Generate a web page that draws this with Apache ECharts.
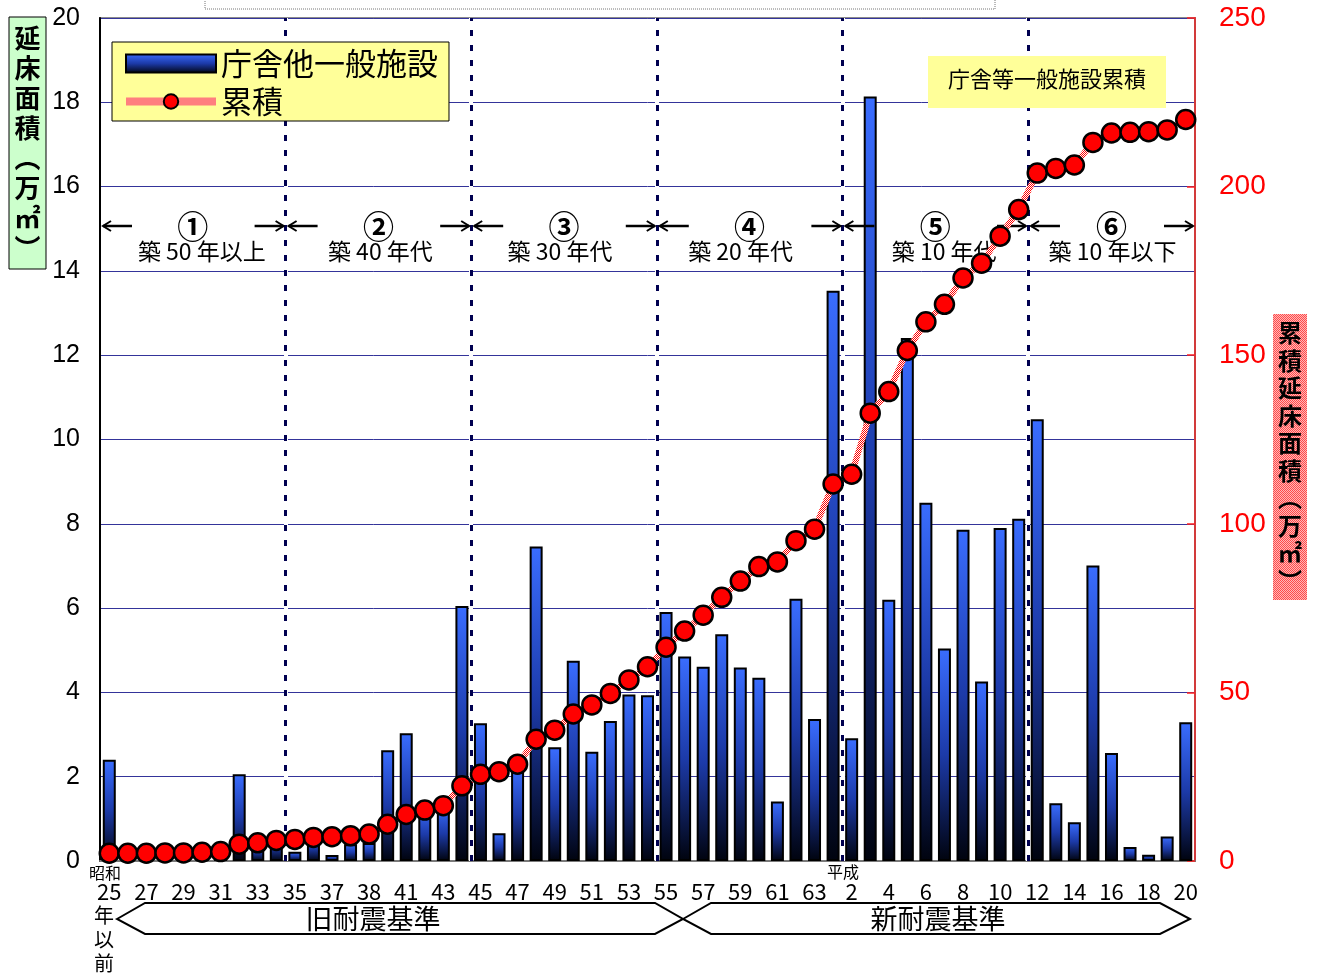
<!DOCTYPE html>
<html>
<head>
<meta charset="utf-8">
<script src="https://cdn.jsdelivr.net/npm/echarts@6/dist/echarts.min.js"></script>
<style>
  html, body { margin: 0; padding: 0; background: #fff; }
  #chart { width: 1319px; height: 976px; }
</style>
</head>
<body>
<div id="chart"></div>
<script>
// 建築年度（昭和25年以前 … 昭和63年, 平成元年, 平成2年 … 平成20年）
const categories = [
  '昭和25年以前', '昭和26', '昭和27', '昭和28', '昭和29', '昭和30', '昭和31', '昭和32', '昭和33', '昭和34',
  '昭和35', '昭和36', '昭和37', '昭和38', '昭和39', '昭和40', '昭和41', '昭和42', '昭和43', '昭和44',
  '昭和45', '昭和46', '昭和47', '昭和48', '昭和49', '昭和50', '昭和51', '昭和52', '昭和53', '昭和54',
  '昭和55', '昭和56', '昭和57', '昭和58', '昭和59', '昭和60', '昭和61', '昭和62', '昭和63', '平成元',
  '平成2', '平成3', '平成4', '平成5', '平成6', '平成7', '平成8', '平成9', '平成10', '平成11',
  '平成12', '平成13', '平成14', '平成15', '平成16', '平成17', '平成18', '平成19', '平成20'
];

// 横軸の目盛ラベル（1年おき）
const tickLabels = [
  '25', '27', '29', '31', '33', '35', '37', '38', '41', '43',
  '45', '47', '49', '51', '53', '55', '57', '59', '61', '63',
  '2', '4', '6', '8', '10', '12', '14', '16', '18', '20'
];

// 庁舎他一般施設 延床面積（万㎡）
const floorArea = [
  2.40, 0.02, 0.03, 0.02, 0.05, 0.10, 0.20, 2.06, 0.40, 0.65,
  0.22, 0.60, 0.14, 0.40, 0.43, 2.63, 3.03, 1.25, 1.30, 6.05,
  3.27, 0.66, 2.20, 7.46, 2.70, 4.75, 2.59, 3.32, 3.95, 3.93,
  5.91, 4.85, 4.61, 5.38, 4.59, 4.35, 1.41, 6.22, 3.37, 13.53,
  2.91, 18.14, 6.20, 12.41, 8.50, 5.04, 7.86, 4.26, 7.90, 8.12,
  10.48, 1.37, 0.92, 7.01, 2.56, 0.33, 0.15, 0.58, 3.29
];

// 累積延床面積（万㎡）
const cumulative = [
  2.3, 2.3, 2.3, 2.4, 2.4, 2.6, 2.8, 5.0, 5.4, 6.1,
  6.4, 7.0, 7.2, 7.5, 8.0, 10.9, 13.8, 15.1, 16.4, 22.3,
  25.7, 26.5, 28.7, 36.1, 38.8, 43.6, 46.3, 49.7, 53.7, 57.6,
  63.4, 68.2, 72.9, 78.2, 83.0, 87.3, 88.7, 95.0, 98.4, 111.8,
  114.7, 132.8, 139.2, 151.4, 159.9, 165.1, 172.9, 177.3, 185.3, 193.2,
  204.0, 205.4, 206.4, 213.1, 215.9, 216.1, 216.3, 216.8, 219.9
];

// 築年数区分の境界（カテゴリ番号）と表示
const eraBounds = [0, 10, 20, 30, 40, 50, 59];
const eraMarks = ['①', '②', '③', '④', '⑤', '⑥'];
const eraNames = ['築 50 年以上', '築 40 年代', '築 30 年代', '築 20 年代', '築 10 年代', '築 10 年以下'];
const eraNameShift = [9, 2, -4, -9, 9, 1];

const JP = '"Noto Sans CJK JP", sans-serif';
const NUM = '"Liberation Sans", Arial, sans-serif';

// 2x2 の網掛けパターン
function dots(ink, paper, full) {
  const cv = document.createElement('canvas');
  cv.width = 2; cv.height = 2;
  const g = cv.getContext('2d');
  g.fillStyle = paper; g.fillRect(0, 0, 2, 2);
  g.fillStyle = ink; g.fillRect(0, 0, 1, 1);
  if (full) g.fillRect(1, 1, 1, 1);
  return cv;
}
const dottedPink = { image: dots('#ff0000', '#ffffff', true), repeat: 'repeat' };
const boxPink = { image: dots('#ff4a4a', '#ffb8b8', true), repeat: 'repeat' };

const chart = echarts.init(document.getElementById('chart'));

chart.setOption({
  animation: false,
  backgroundColor: '#ffffff',
  grid: { left: 100, right: 124, top: 18, bottom: 115, show: true, borderColor: '#8c8c8c', borderWidth: 2 },
  legend: {
    left: 112, top: 42, orient: 'vertical', z: 8,
    backgroundColor: '#ffff99', borderColor: '#000', borderWidth: 1,
    padding: [6, 11, 4, 10],
    itemWidth: 90, itemHeight: 18, itemGap: 7, itemTextGap: 10,
    selectedMode: false,
    lineStyle: { width: 8 },
    textStyle: { fontSize: 31, lineHeight: 31, fontFamily: JP, color: '#000' },
    data: [{ name: '庁舎他一般施設', icon: 'rect' }, { name: '累積' }]
  },
  xAxis: [
    {
      type: 'category', data: categories, gridIndex: 0,
      axisLine: { lineStyle: { color: '#7a7a7a', width: 2 } },
      axisTick: { show: false },
      axisLabel: {
        interval: 0, margin: 20, fontSize: 22, fontFamily: JP, color: '#000',
        formatter: (v, i) => (i % 2 === 0 ? tickLabels[i / 2] : '')
      }
    },
    { type: 'value', min: 0, max: categories.length, show: false, gridIndex: 0 }
  ],
  yAxis: [
    {
      type: 'value', min: 0, max: 20, interval: 2, position: 'left',
      axisLine: { show: true, lineStyle: { color: '#000', width: 2 } },
      axisTick: { show: false },
      axisLabel: { fontSize: 25, fontFamily: NUM, color: '#000', margin: 20 },
      splitLine: { lineStyle: { color: '#34349a', width: 1 } }
    },
    {
      type: 'value', min: 0, max: 250, interval: 50, position: 'right',
      axisLine: { show: true, lineStyle: { color: '#d23a3a', width: 2 } },
      axisTick: { show: true, inside: true, length: 8, lineStyle: { color: '#ff2020', width: 1.5 } },
      axisLabel: { fontSize: 28, fontFamily: NUM, color: '#ff0000', margin: 24 },
      splitLine: { show: false }
    }
  ],
  series: [
    {
      name: '庁舎他一般施設', type: 'bar', data: floorArea, barWidth: '70%', z: 2,
      itemStyle: {
        color: { type: 'linear', x: 0, y: 0, x2: 0, y2: 1,
          colorStops: [{ offset: 0, color: '#3a6dff' }, { offset: 0.5, color: '#1c3aa8' }, { offset: 1, color: '#00030e' }] },
        borderColor: '#000', borderWidth: 2
      }
    },
    {
      name: 'divider', type: 'line', xAxisIndex: 1, yAxisIndex: 0, data: [], z: 3,
      markLine: {
        z: 3, silent: true, symbol: 'none', animation: false,
        label: { show: false },
        data: eraBounds.slice(1, -1).flatMap(b => [
          { xAxis: b, lineStyle: { color: '#ffffff', width: 4, type: 'solid' } },
          { xAxis: b, lineStyle: { color: '#000050', width: 3, type: [6, 9] } }
        ])
      }
    },
    {
      name: '累積', type: 'line', yAxisIndex: 1, data: cumulative, z: 5,
      symbol: 'circle', symbolSize: 19,
      itemStyle: { color: '#ff0000', borderColor: '#000', borderWidth: 2.5 },
      lineStyle: { color: dottedPink, width: 6 }
    }
  ]
});

// 注記類（軸の目盛から位置を求める）
const px = v => chart.convertToPixel({ xAxisIndex: 1 }, v);
const g = [];
const txt = (text, x, y, size, opts = {}) => g.push({
  type: 'text', z: opts.z || 4, silent: true,
  style: Object.assign({
    text, x, y, fill: opts.fill || '#000',
    fontSize: size, fontFamily: opts.family || JP, fontWeight: opts.weight || 'normal',
    align: opts.align || 'center', verticalAlign: 'middle',
    textAlign: opts.align || 'center', textVerticalAlign: 'middle'
  }, opts.lineHeight ? { lineHeight: opts.lineHeight } : {})
});
const arrow = (xTail, xHead, y) => {
  const d = xHead > xTail ? -1 : 1;
  g.push({ type: 'line', z: 4, silent: true, shape: { x1: xTail, y1: y, x2: xHead, y2: y }, style: { stroke: '#000', lineWidth: 2.5 } });
  g.push({ type: 'polyline', z: 4, silent: true, shape: { points: [[xHead + d * 8, y - 5], [xHead, y], [xHead + d * 8, y + 5]] }, style: { stroke: '#000', lineWidth: 2, fill: null } });
};

const arrowY = 226, nameY = 251;
for (let i = 0; i < eraMarks.length; i++) {
  const L = px(eraBounds[i]), R = px(eraBounds[i + 1]);
  const c = (L + R) / 2;
  arrow(L + 32, L + 3, arrowY);
  arrow(R - 31, R - 2, arrowY);
  txt(eraMarks[i], c, arrowY, 31, { weight: 'bold' });
  txt(eraNames[i], c + eraNameShift[i], nameY, 23);
}

// 左軸タイトル
g.push({ type: 'rect', z: 4, silent: true, shape: { x: 9, y: 17, width: 37, height: 252 }, style: { fill: '#ccffcc', stroke: '#000', lineWidth: 1 } });
txt('延\n床\n面\n積\n︵\n万\n㎡\n︶', 27.5, 143, 26, { weight: 'bold', lineHeight: 30 });

// 右軸タイトル
g.push({ type: 'rect', z: 4, silent: true, shape: { x: 1273, y: 314, width: 34, height: 286 }, style: { fill: boxPink, stroke: null } });
txt('累\n積\n延\n床\n面\n積\n︵\n万\n㎡\n︶', 1290, 457, 24, { weight: 'bold', lineHeight: 27.5 });

// 注記ボックス
g.push({ type: 'rect', z: 8, silent: true, shape: { x: 928, y: 56, width: 238, height: 52 }, style: { fill: '#ffff99' } });
txt('庁舎等一般施設累積', 1047, 79, 22, { z: 9 });

// 上端の点線枠
g.push({ type: 'rect', z: 1, silent: true, shape: { x: 205, y: -20, width: 790, height: 29 }, style: { fill: null, stroke: '#777', lineWidth: 1, lineDash: [1, 1] } });

// 元号表記
txt('昭和', 105, 873, 16);
txt('年', 104, 915, 20);
txt('以', 104, 939, 20);
txt('前', 104, 963, 20);
txt('平成', 843, 872, 16);

// 耐震基準の区分
g.push({ type: 'polygon', z: 4, silent: true, shape: { points: [[117, 919], [145, 903], [655, 903], [683, 919], [655, 934], [145, 934]] }, style: { fill: null, stroke: '#000', lineWidth: 2 } });
g.push({ type: 'polygon', z: 4, silent: true, shape: { points: [[683, 919], [711, 903], [1160, 903], [1190, 919], [1160, 934], [711, 934]] }, style: { fill: null, stroke: '#000', lineWidth: 2 } });
txt('旧耐震基準', 373, 919, 27);
txt('新耐震基準', 938, 919, 27);

chart.setOption({ graphic: { elements: g } });
</script>
</body>
</html>
